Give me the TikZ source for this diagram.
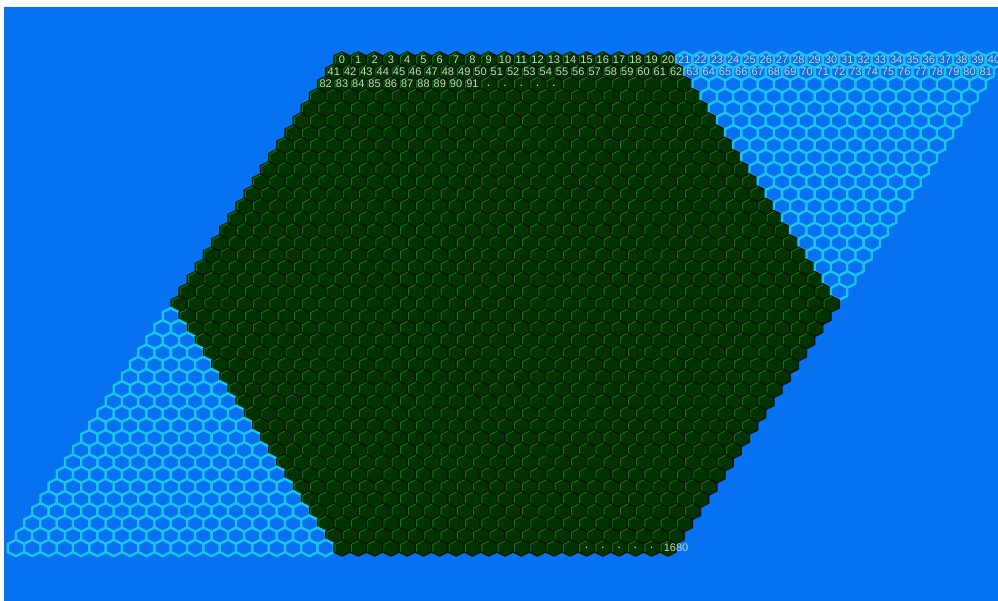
\documentclass[tikz,border=0pt]{standalone}
\usepackage{fontspec}
\setmainfont{Liberation Sans}
\definecolor{bg}{HTML}{0672F2}
\definecolor{cyanline}{HTML}{18C4F4}
\definecolor{dkfill}{HTML}{003300}
\definecolor{dkhi}{HTML}{0E7A0E}
\definecolor{dklo}{HTML}{001200}
\definecolor{lbl}{HTML}{CCD4BE}
\tikzset{
  bluecell/.style={draw=cyanline, line width=2.3, fill=bg},
  darkcell/.style={fill=dkfill, draw=dklo, line width=1.2},
  darkhi/.style={draw=dkhi, line width=0.9},
  cellnum/.style={text=lbl, inner sep=0, font=\fontsize{11}{11}\selectfont},
  celldot/.style={text=lbl, inner sep=0, font=\bfseries\fontsize{9}{9}\selectfont}
}
\begin{document}
\begin{tikzpicture}[x=1pt,y=-1pt]
\useasboundingbox (0,0) rectangle (998,601);
\fill[white] (0,0) rectangle (998,601);
\clip (0,0) rectangle (998,601);
\fill[bg] (4,7) rectangle (998,601);
\foreach \r in {0,...,40}{
  \foreach \c in {0,...,40}{
    \pgfmathsetmacro\cx{342+16.3*\c-8.15*\r}
    \pgfmathsetmacro\cy{60+12.2*\r}
    \pgfmathtruncatemacro\d{abs(\c-\r)}
    \ifnum\d>20
      \draw[bluecell] (\cx,\cy-8.15) -- ++(8.15,4.07) -- ++(0,8.15) -- ++(-8.15,4.07) -- ++(-8.15,-4.07) -- ++(0,-8.15) -- cycle;
    \else
      \draw[darkcell] (\cx,\cy-8.15) -- ++(8.15,4.07) -- ++(0,8.15) -- ++(-8.15,4.07) -- ++(-8.15,-4.07) -- ++(0,-8.15) -- cycle;
      \draw[darkhi] (\cx+0.4,\cy-7.3) -- ++(-7.3,3.65) -- ++(0,7.3);
    \fi
  }
}
% labels row 0 and row 1
\foreach \r in {0,1}{
  \foreach \c in {0,...,40}{
    \pgfmathsetmacro\cx{342+16.3*\c-8.15*\r}
    \pgfmathsetmacro\cy{59.5+12.2*\r}
    \pgfmathtruncatemacro\k{41*\r+\c}
    \node[cellnum] (n\k) at (\cx,\cy) {\k};
  }
}
% row 2
\foreach \c in {0,...,9}{
  \pgfmathsetmacro\cx{342+16.3*\c-16.3}
  \pgfmathtruncatemacro\k{82+\c}
  \node[cellnum] (n\k) at (\cx,84) {\k};
}
\foreach \c in {10,...,14}{
  \pgfmathsetmacro\cx{342+16.3*\c-16.3}
  \node[celldot] (d\c) at (\cx,86) {.};
}
% row 40
\foreach \c in {35,...,39}{
  \pgfmathsetmacro\cx{16+16.3*\c}
  \node[celldot] (e\c) at (\cx,548) {.};
}
\node[cellnum] (n1680) at (676,547.5) {1680};
\end{tikzpicture}
\end{document}
